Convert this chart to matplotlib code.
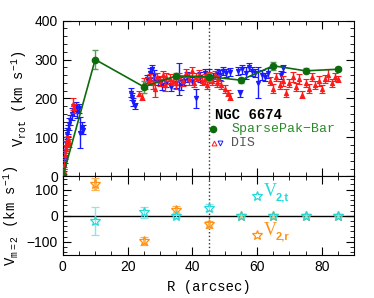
import numpy as np
import matplotlib
matplotlib.use('Agg')
import matplotlib.pyplot as plt
from matplotlib.ticker import MultipleLocator

# SparsePak-Bar rotation curve
sp_r = [0, 10, 25, 35, 45, 55, 65, 75, 85]
sp_v = [0, 300, 230, 258, 256, 247, 284, 271, 275]
sp_e = [0, 25, 15, 8, 10, 6, 10, 6, 5]

# DIS, red (up triangles)
dr_r = [0.3, 0.5, 0.7, 0.9, 1.1, 1.3, 1.6, 2.0, 3.0, 3.3,
        23.5, 24.5, 25.0, 25.5, 26.5, 27.0, 28.0, 28.5, 29.0, 30.0,
        31.0, 31.5, 32.0, 33.0, 34.0, 35.0, 36.0, 37.0, 38.0, 39.0,
        40.0, 40.5, 41.0, 42.0, 43.0, 44.0, 44.5, 45.0, 46.0, 47.0,
        47.5, 48.0, 49.0, 50.0, 51.0, 51.5,
        64, 65, 66, 67, 68, 69, 70, 71, 72, 73, 74, 75, 76, 77, 78,
        79, 80, 81, 82, 83, 84, 85]
dr_v = [15, 30, 55, 70, 80, 90, 95, 85, 185, 175,
        212, 205, 240, 235, 245, 250, 240, 225, 255, 245,
        260, 235, 255, 250, 245, 240, 255, 245, 265, 250,
        270, 240, 255, 260, 245, 250, 235, 255, 245, 260,
        240, 250, 235, 225, 215, 205,
        245, 225, 255, 235, 245, 215, 240, 255, 230, 250, 210, 240, 225, 255, 235,
        245, 225, 250, 260, 240, 255, 250]
dr_e = [8, 10, 10, 10, 10, 12, 10, 10, 15, 12,
        6, 8, 12, 10, 10, 12, 15, 20, 10, 12,
        10, 15, 10, 12, 10, 15, 10, 12, 10, 15,
        12, 10, 10, 12, 10, 12, 10, 12, 10, 10,
        10, 10, 10, 10, 8, 8,
        10, 12, 10, 10, 12, 10, 10, 12, 10, 12, 10, 10, 12, 10, 10,
        12, 10, 10, 15, 10, 10, 8]

# DIS, blue (down triangles)
db_r = [0.4, 0.6, 0.8, 1.0, 1.3, 1.6, 2.0, 2.3, 2.7, 3.5, 4.0, 4.5, 5.0, 5.4, 5.8, 6.3,
        21.0, 21.4, 21.8, 22.2, 26.0, 26.8, 27.5, 28.2, 29.5, 30.5, 32.0, 33.5,
        35.0, 35.8, 36.5, 37.5, 38.5, 40.0, 41.2, 42.5, 44.0, 45.0, 46.5, 47.5,
        48.5, 49.5, 50.5, 51.5, 54.0, 54.6, 55.5, 56.5, 57.5, 58.5, 59.5, 60.4,
        61.5, 62.5, 63.5, 67.5, 68.0]
db_v = [25, 45, 65, 85, 110, 120, 135, 145, 160, 170, 180, 165, 175, 112, 125, 120,
        215, 205, 190, 180, 250, 265, 275, 260, 245, 235, 240, 230,
        240, 250, 235, 245, 255, 245, 200, 255, 265, 260, 255, 265,
        260, 270, 265, 268, 270, 213, 275, 265, 280, 270, 265, 240,
        260, 255, 265, 260, 277]
db_e = [10, 10, 12, 15, 15, 12, 15, 12, 15, 15, 12, 15, 12, 40, 15, 12,
        12, 10, 10, 8, 10, 12, 10, 12, 10, 12, 10, 10,
        12, 40, 12, 10, 12, 10, 25, 12, 10, 15, 10, 10,
        12, 10, 10, 10, 10, 8, 12, 15, 10, 12, 10, 40,
        12, 10, 12, 10, 10]

# m=2 harmonic terms
m2_r = [10, 25, 35, 45, 55, 65, 75, 85]
v2t = [-20, 13, 0, 31, 0, 0, 0, 0]
v2t_e = [53, 20, 10, 12, 5, 5, 5, 5]
v2r = [122, -97, 22, -33, 0, 0, 0, 0]
v2r_e = [22, 15, 15, 12, 5, 5, 5, 5]

mono = 'Liberation Mono'
plt.rcParams['font.family'] = 'Liberation Sans'
plt.rcParams['mathtext.fontset'] = 'custom'
plt.rcParams['mathtext.rm'] = 'Liberation Mono'

fig = plt.figure(figsize=(3.74, 2.98), dpi=100)
ax1 = fig.add_axes([0.168, 0.408, 0.779, 0.523])
ax2 = fig.add_axes([0.168, 0.144, 0.779, 0.264], sharex=ax1)

red = '#ff1a1a'
blue = '#1a1aff'
green = '#0d6b0d'
ax1.errorbar(db_r, db_v, yerr=db_e, fmt='v', ms=3, color=blue, ecolor=blue,
             elinewidth=1, capsize=2, mew=0.8, zorder=2)
ax1.errorbar(dr_r, dr_v, yerr=dr_e, fmt='^', ms=3, color=red, ecolor=red,
             elinewidth=1, capsize=2, mew=0.8, zorder=3)
ax1.errorbar(sp_r, sp_v, yerr=sp_e, fmt='o-', ms=4.5, color=green, ecolor='#5a9a5a',
             elinewidth=1, capsize=2, lw=1.2, zorder=4)
ax1.axvline(45, color='#333333', ls=':', lw=1)

ax1.text(47, 157, 'NGC 6674', fontsize=10, fontweight='bold', family=mono, va='center')
ax1.plot([46.5], [122], 'o', ms=4.5, color=green)
ax1.text(52, 122, 'SparsePak\u2212Bar', fontsize=9.5, family=mono, color='#2a8a2a', va='center')
ax1.plot([46.6], [87], '^', ms=3.5, mfc='none', mec=red, mew=0.7)
ax1.plot([48.6], [87], 'v', ms=3.5, mfc='none', mec=blue, mew=0.7)
ax1.text(52, 87, 'DIS', fontsize=9.5, family=mono, color='#555555', va='center')

ax1.set_xlim(0, 90)
ax1.set_ylim(0, 400)
ax1.set_ylabel('V$_{\\rm rot}$ (km s$^{-1}$)', family=mono, fontsize=10)

cyan = '#22d8d8'
orange = '#ff9010'
ax2.axhline(0, color='black', lw=1, zorder=1)
ax2.axvline(45, color='#333333', ls=':', lw=1)
ax2.errorbar(m2_r, v2t, yerr=v2t_e, fmt='*', ms=7, mfc='none', mec=cyan, mew=0.9,
             ecolor='#88e8e8', elinewidth=1, capsize=3, zorder=3)
ax2.errorbar(m2_r, v2r, yerr=v2r_e, fmt='*', ms=7, mfc='none', mec=orange, mew=0.9,
             ecolor='#ffb050', elinewidth=2, capsize=3, zorder=2)
ax2.plot([60], [76], '*', ms=7, mfc='none', mec=cyan, mew=0.9)
ax2.text(62, 92, 'V', fontsize=13, color=cyan, va='center', family='Liberation Serif')
ax2.text(65.6, 68, '2,t', fontsize=8, fontweight='bold', color=cyan, va='center')
ax2.plot([60], [-74], '*', ms=7, mfc='none', mec=orange, mew=0.9)
ax2.text(62, -55, 'V', fontsize=13, color=orange, va='center', family='Liberation Serif')
ax2.text(65.6, -80, '2,r', fontsize=8, fontweight='bold', color=orange, va='center')

ax2.set_ylim(-150, 150)
ax2.set_xlabel('R (arcsec)', family=mono, fontsize=10)
ax2.set_ylabel('V$_{\\rm m=2}$ (km s$^{-1}$)', family=mono, fontsize=10)

for ax in (ax1, ax2):
    ax.xaxis.set_major_locator(MultipleLocator(20))
    ax.xaxis.set_minor_locator(MultipleLocator(5))
    ax.yaxis.set_major_locator(MultipleLocator(100))
    ax.yaxis.set_minor_locator(MultipleLocator(20))
    ax.tick_params(which='both', direction='in', top=True, right=True, labelsize=10)
    ax.tick_params(which='major', length=6)
    ax.tick_params(which='minor', length=3)
plt.setp(ax1.get_xticklabels(), visible=False)

fig.savefig('out.png', dpi=100)
